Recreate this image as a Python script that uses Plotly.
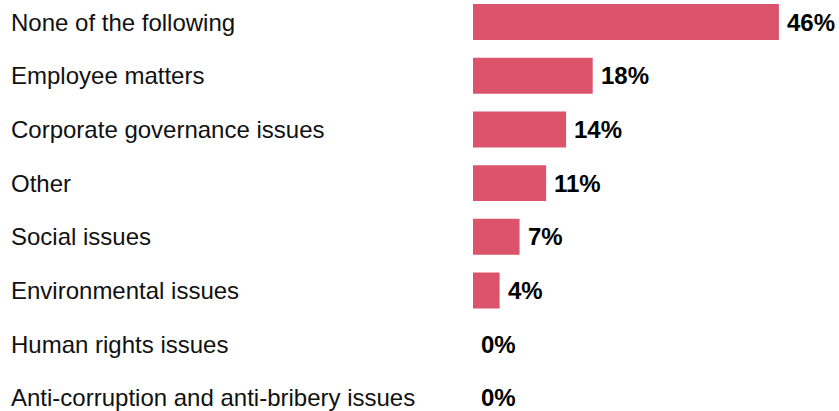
import plotly.graph_objects as go

categories = [
    "None of the following",
    "Employee matters",
    "Corporate governance issues",
    "Other",
    "Social issues",
    "Environmental issues",
    "Human rights issues",
    "Anti-corruption and anti-bribery issues",
]
values = [46, 18, 14, 11, 7, 4, 0, 0]
value_labels = [f"{v}%" for v in values]

W, H = 839, 411
BAR_COLOR = "#DB546B"
FONT = "Liberation Sans, Arial, sans-serif"

fig = go.Figure(
    go.Bar(
        x=values,
        y=categories,
        orientation="h",
        marker=dict(color=BAR_COLOR, line=dict(width=0)),
        width=0.67,
        hoverinfo="skip",
    )
)

annotations = []
for cat, v, lab in zip(categories, values, value_labels):
    # category name, left-aligned at the page edge
    annotations.append(dict(
        x=9 / W, xref="paper", y=cat, yref="y",
        text=cat, showarrow=False, xanchor="left", yanchor="middle",
        font=dict(family=FONT, size=24, color="#111111"),
    ))
    # value label just past the end of the bar
    annotations.append(dict(
        x=v, xref="x", y=cat, yref="y",
        text=f"<b>{lab}</b>", showarrow=False, xanchor="left", yanchor="middle",
        xshift=6,
        font=dict(family=FONT, size=24, color="#000000"),
    ))

row = 53.71
fig.update_layout(
    width=W, height=H,
    margin=dict(l=0, r=0, t=0, b=0),
    paper_bgcolor="white", plot_bgcolor="white",
    showlegend=False,
    xaxis=dict(domain=[473 / W, 1], range=[0, (W - 473) / 6.65],
               visible=False, fixedrange=True),
    yaxis=dict(categoryorder="array", categoryarray=categories,
               range=[(H - 22) / row, -22 / row],
               visible=False, fixedrange=True),
    annotations=annotations,
)

fig.write_html("out.html")
